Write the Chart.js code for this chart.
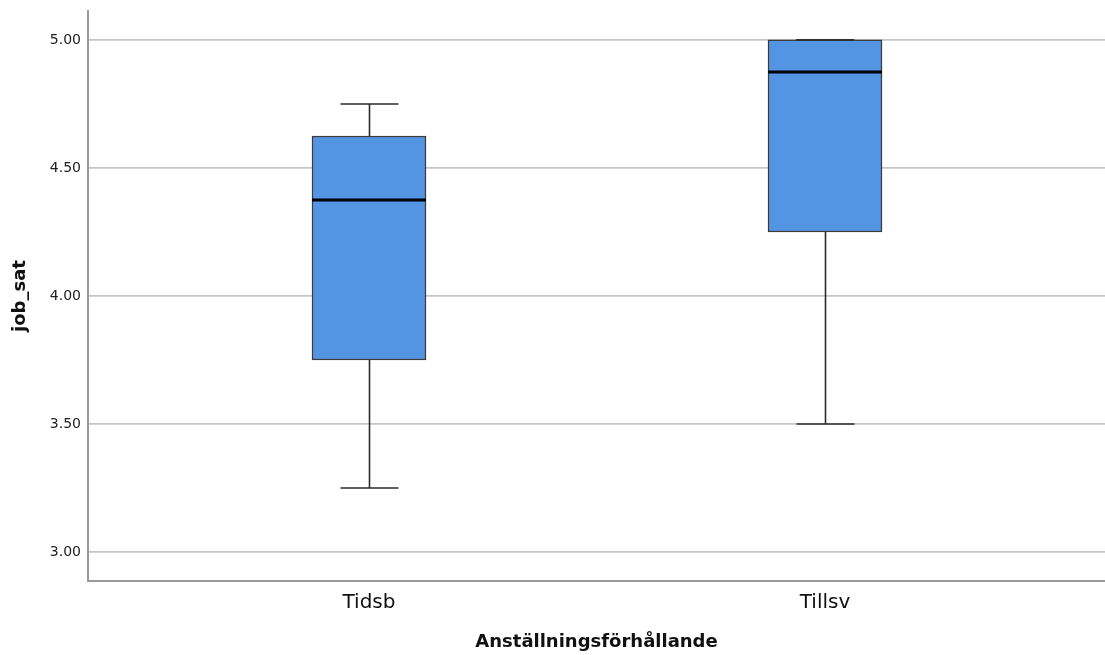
<!DOCTYPE html>
<html>
<head>
<meta charset="utf-8">
<script src="https://cdn.jsdelivr.net/npm/chart.js@4/dist/chart.umd.min.js"></script>
<style>
html,body{margin:0;padding:0;background:#fff;}
#wrap{width:1105px;height:655px;position:relative;}
</style>
</head>
<body>
<div id="wrap"><canvas id="c"></canvas></div>
<script>
const categories = ["Tidsb", "Tillsv"];
const positions = [1, 2];
const whiskerLow = [3.25, 3.5];
const q1 = [3.75, 4.25];
const median = [4.375, 4.875];
const q3 = [4.625, 5.0];
const whiskerHigh = [4.75, 5.0];
const yTicks = [3.0, 3.5, 4.0, 4.5, 5.0];
const xTitle = "Anställningsförhållande";
const yTitle = "job_sat";

const boxData = positions.map((p, i) => ({ x: p, y: [q1[i], q3[i]] }));

const boxPlugin = {
  id: 'boxWhiskers',
  beforeDatasetsDraw(chart) {
    const { ctx, scales: { x, y } } = chart;
    ctx.save();
    ctx.strokeStyle = '#2b2b2b';
    ctx.lineWidth = 1.6;
    positions.forEach((p, i) => {
      const cx = Math.round(x.getPixelForValue(p)) + 0.5;
      const half = 29;
      ctx.beginPath();
      ctx.moveTo(cx, y.getPixelForValue(whiskerLow[i]));
      ctx.lineTo(cx, y.getPixelForValue(q1[i]));
      ctx.moveTo(cx, y.getPixelForValue(q3[i]));
      ctx.lineTo(cx, y.getPixelForValue(whiskerHigh[i]));
      ctx.stroke();
      [whiskerLow[i], whiskerHigh[i]].forEach(v => {
        const py = y.getPixelForValue(v);
        ctx.beginPath();
        ctx.moveTo(cx - half, py);
        ctx.lineTo(cx + half, py);
        ctx.stroke();
      });
    });
    ctx.restore();
  },
  afterDatasetsDraw(chart) {
    const { ctx, scales: { x, y } } = chart;
    const meta = chart.getDatasetMeta(0);
    ctx.save();
    positions.forEach((p, i) => {
      const bar = meta.data[i];
      const half = bar.width / 2;
      const cx = x.getPixelForValue(p);
      ctx.strokeStyle = '#000';
      ctx.lineWidth = 3;
      const py = y.getPixelForValue(median[i]);
      ctx.beginPath();
      ctx.moveTo(cx - half, py);
      ctx.lineTo(cx + half, py);
      ctx.stroke();
      const ph = y.getPixelForValue(whiskerHigh[i]);
      if (whiskerHigh[i] === q3[i]) {
        ctx.strokeStyle = '#2b2b2b';
        ctx.lineWidth = 1.6;
        ctx.beginPath();
        ctx.moveTo(cx - 29, ph);
        ctx.lineTo(cx + 29, ph);
        ctx.stroke();
      }
    });
    ctx.restore();
  }
};

new Chart(document.getElementById('c'), {
  type: 'bar',
  data: {
    datasets: [{
      data: boxData,
      backgroundColor: '#5394e3',
      borderColor: '#3c3c3c',
      borderWidth: 1.5,
      borderSkipped: false,
      barThickness: 114
    }]
  },
  options: {
    responsive: true,
    maintainAspectRatio: false,
    animation: false,
    layout: { padding: { top: 11, right: 0, left: 0, bottom: 0 } },
    plugins: { legend: { display: false }, tooltip: { enabled: false } },
    scales: {
      x: {
        type: 'linear',
        min: 0.3838,
        max: 2.614,
        offset: false,
        afterBuildTicks(scale) { scale.ticks = positions.map(v => ({ value: v })); },
        afterFit(scale) { scale.height = 74; scale.paddingLeft = 0; scale.paddingRight = 0; },
        ticks: {
          padding: 10,
          color: '#111',
          font: { family: 'DejaVu Sans', size: 20 },
          callback(value) { const i = positions.indexOf(value); return i >= 0 ? categories[i] : ''; }
        },
        grid: { display: false, drawTicks: false },
        border: { display: true, color: '#9a9a9a', width: 2 },
        title: {
          display: true,
          text: xTitle,
          color: '#111',
          font: { family: 'DejaVu Sans', size: 18, weight: 'bold' },
          padding: { top: 0, bottom: 2 }
        }
      },
      y: {
        type: 'linear',
        min: 2.887,
        max: 5.113,
        afterBuildTicks(scale) { scale.ticks = yTicks.map(v => ({ value: v })); },
        afterFit(scale) { scale.width = 88; scale.paddingTop = 0; scale.paddingBottom = 0; },
        ticks: {
          padding: 7,
          color: '#222',
          font: { family: 'DejaVu Sans', size: 14 },
          callback(value) { return Number(value).toFixed(2); }
        },
        grid: { color: '#c6c6c6', lineWidth: 1.8, drawTicks: false },
        border: { display: true, color: '#9a9a9a', width: 2 },
        title: {
          display: true,
          text: yTitle,
          color: '#111',
          font: { family: 'DejaVu Sans', size: 18, weight: 'bold' },
          padding: { top: 10, bottom: 0 }
        }
      }
    }
  },
  plugins: [boxPlugin]
});
</script>
</body>
</html>
